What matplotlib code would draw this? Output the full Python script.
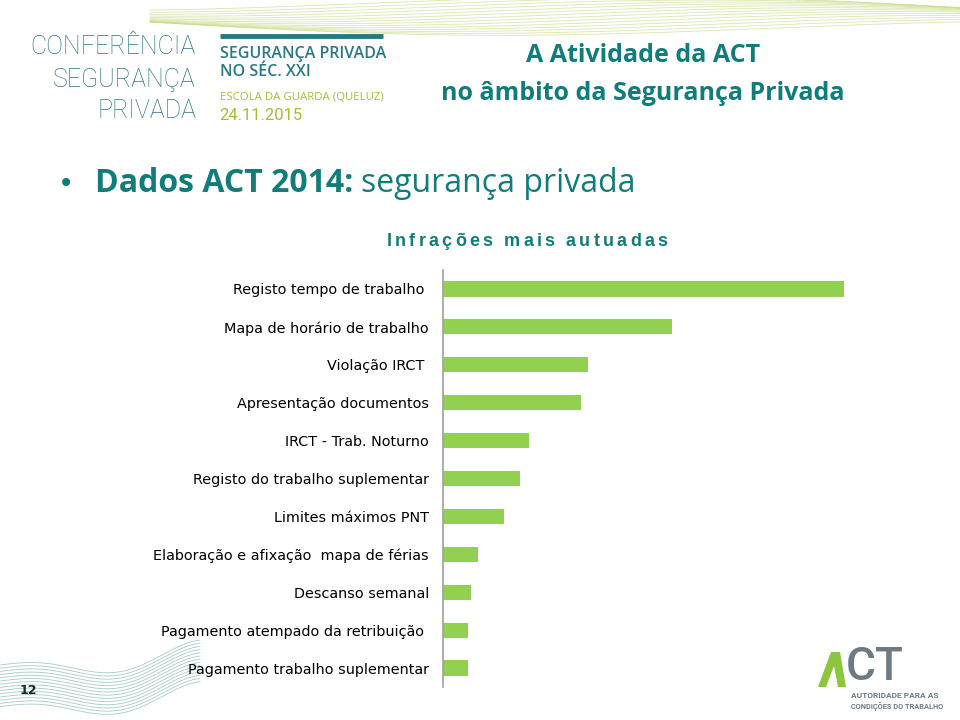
import numpy as np
import matplotlib
matplotlib.use('Agg')
import matplotlib.pyplot as plt

# infrações mais autuadas (valores relativos)
categorias = [
    "Registo tempo de trabalho ",
    "Mapa de horário de trabalho",
    "Violação IRCT ",
    "Apresentação documentos",
    "IRCT - Trab. Noturno",
    "Registo do trabalho suplementar",
    "Limites máximos PNT",
    "Elaboração e afixação  mapa de férias",
    "Descanso semanal",
    "Pagamento atempado da retribuição ",
    "Pagamento trabalho suplementar",
]
valores = [401, 229, 145, 138, 86, 77, 61, 35, 28, 25, 25]

TEAL = '#117d7a'
TEAL_LOGO = '#2a7883'
GREEN = '#92d050'
LIME = '#a3be36'
GRAY = '#6d7b86'

fig = plt.figure(figsize=(9.6, 7.2), dpi=100)

# fundo em coordenadas de pixel
bg = fig.add_axes([0, 0, 1, 1], zorder=0)
bg.set_xlim(0, 960)
bg.set_ylim(720, 0)
bg.axis('off')

# ondas decorativas (topo, verde claro)
t = np.linspace(0, 1, 200)
for k in range(14):
    xs = 150 + 810 * t
    ys = 22 + 10 * np.sin(np.pi * (t * 1.3 + k * 0.05)) - k * 1.6 + 8 * t
    bg.plot(xs, ys, color='#c9dd8c', lw=0.6, alpha=0.7)
# ondas decorativas (canto inferior esquerdo, verde-azulado)
for k in range(14):
    xs = np.linspace(0, 200, 200)
    ys = 665 + 40 * np.sin(np.pi * xs / 200) ** 2 * (xs / 200) + k * 3.2 - 25 * (xs / 200)
    bg.plot(xs, ys, color='#6aa7a7', lw=0.6, alpha=0.6)

# cabeçalho esquerdo
for txt, y in [("CONFERÊNCIA", 47), ("SEGURANÇA", 80), ("PRIVADA", 111)]:
    bg.text(196, y, txt, ha='right', va='center', fontsize=18, color=TEAL_LOGO,
            family='Roboto', fontweight='light')
bg.plot([220, 383], [36, 36], color=TEAL_LOGO, lw=3.5, solid_capstyle='butt')
bg.text(220, 54, "SEGURANÇA PRIVADA", ha='left', va='center', fontsize=11.5,
        color=TEAL_LOGO, family='Open Sans', fontweight='semibold')
bg.text(220, 72, "NO SÉC. XXI", ha='left', va='center', fontsize=11.5,
        color=TEAL_LOGO, family='Open Sans', fontweight='semibold')
bg.text(220, 98, "ESCOLA DA GUARDA (QUELUZ)", ha='left', va='center', fontsize=8.2,
        color=LIME, family='Open Sans')
bg.text(219, 115, "24.11.2015", ha='left', va='center', fontsize=12,
        color=LIME, family='Roboto')

# título
bg.text(643, 56, "A Atividade da ACT", ha='center', va='center', fontsize=18,
        color=TEAL, family='Open Sans', fontweight='bold')
bg.text(643, 94, "no âmbito da Segurança Privada", ha='center', va='center', fontsize=18,
        color=TEAL, family='Open Sans', fontweight='bold')

# subtítulo com marcador
bg.text(66, 184, "•", ha='center', va='center', fontsize=20, color=TEAL)
t1 = bg.text(95, 184, "Dados ACT 2014:", ha='left', va='center', fontsize=23,
             color=TEAL, family='Open Sans', fontweight='bold')
renderer = fig.canvas.get_renderer()
bb = t1.get_window_extent(renderer)
bg.text(bb.x1 + 8, 184, "segurança privada", ha='left', va='center', fontsize=23,
        color=TEAL, family='Open Sans')

# título do gráfico com espaçamento entre letras
titulo = "Infrações mais autuadas"
espaco = 3.2
kw = dict(fontsize=13, color=TEAL, family='Liberation Sans', fontweight='bold')
def largura(s):
    tmp = bg.text(0, 0, s.replace(' ', '\u00a0'), **kw)
    w = tmp.get_window_extent(renderer).width
    tmp.remove()
    return w
total = largura(titulo) + espaco * (len(titulo) - 1)
x0 = 527 - total / 2
for i, ch in enumerate(titulo):
    bg.text(x0 + largura(titulo[:i]) + espaco * i if i else x0, 241, ch,
            ha='left', va='center', **kw)

# gráfico de barras
ax = fig.add_axes([443 / 960, 1 - 687 / 720, 420 / 960, 417 / 720], zorder=2)
ax.patch.set_alpha(0)
y = np.arange(len(categorias))
ax.barh(y, valores, height=0.4, color=GREEN)
ax.set_ylim(len(categorias) - 0.5, -0.5)
ax.set_xlim(0, 420)
ax.set_yticks(y)
ax.set_yticklabels(categorias, fontsize=10.4, family='DejaVu Sans', color='black')
ax.tick_params(axis='y', length=0, pad=10)
ax.set_xticks([])
for s in ['top', 'right', 'bottom']:
    ax.spines[s].set_visible(False)
ax.spines['left'].set_color('#a0a0a0')
ax.spines['left'].set_linewidth(1.2)

# número da página
bg.text(28, 690, "12", ha='center', va='center', fontsize=9, fontweight='bold', color='#222222')

# logótipo ACT
bg.fill([818, 831, 840, 846, 838, 834, 826], [687, 652, 652, 687, 687, 666, 687],
        color='#8cc63f', lw=0)
bg.text(846, 667, "CT", ha='left', va='center', fontsize=33, color=GRAY,
        family='Roboto', fontweight='medium')
bg.text(851, 695, "AUTORIDADE PARA AS", ha='left', va='center', fontsize=6.0,
        color=GRAY, family='Roboto', fontweight='bold')
bg.text(851, 707, "CONDIÇÕES DO TRABALHO", ha='left', va='center', fontsize=5.3,
        color=GRAY, family='Roboto', fontweight='bold')

fig.savefig('out.png', dpi=100)
